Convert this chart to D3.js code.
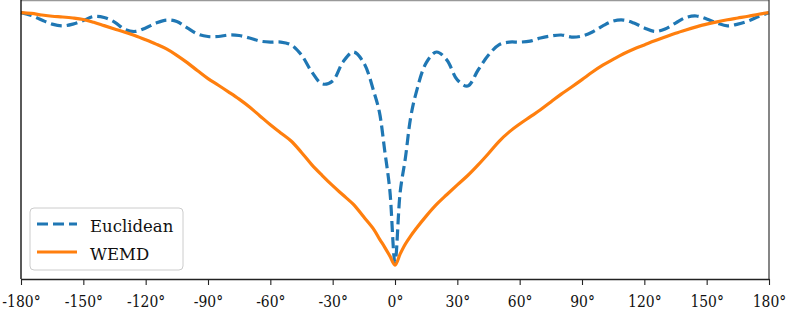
<!DOCTYPE html>
<html>
<head>
<meta charset="utf-8">
<script src="https://cdn.jsdelivr.net/npm/d3@7"></script>
<style>
  body { margin: 0; background: #fff; }
  svg { display: block; }
  text { font-family: "DejaVu Serif", "Liberation Serif", serif; }
</style>
</head>
<body>
<div id="chart"></div>
<script>
// angle samples (degrees)
const angles = [-180,-175,-170,-165,-160,-155,-150,-145,-140,-135,-130,-125,-120,-115,-110,-105,-100,-95,-90,-85,-80,-75,-70,-65,-60,-55,-50,-45,-40,-35,-30,-25,-20,-15,-10,-7.5,-5,-2.5,0,2.5,5,7.5,10,15,20,25,30,35,40,45,50,55,60,65,70,75,80,85,90,95,100,105,110,115,120,125,130,135,140,145,150,155,160,165,170,175,180];

// normalised similarity
const euclidean = [1.000,0.989,0.971,0.955,0.948,0.955,0.969,0.985,0.981,0.963,0.934,0.926,0.940,0.959,0.971,0.965,0.940,0.916,0.906,0.906,0.912,0.910,0.900,0.888,0.884,0.884,0.873,0.833,0.766,0.719,0.731,0.806,0.845,0.802,0.683,0.608,0.459,0.301,0.015,0.293,0.427,0.585,0.679,0.802,0.845,0.813,0.735,0.711,0.774,0.833,0.873,0.884,0.884,0.888,0.900,0.908,0.912,0.904,0.908,0.924,0.948,0.967,0.971,0.959,0.940,0.926,0.936,0.959,0.981,0.987,0.975,0.959,0.948,0.955,0.967,0.985,1.000];

const wemd = [1.000,0.997,0.991,0.986,0.983,0.979,0.973,0.962,0.949,0.936,0.923,0.909,0.893,0.876,0.857,0.832,0.803,0.771,0.740,0.714,0.687,0.659,0.628,0.593,0.558,0.526,0.494,0.449,0.400,0.358,0.318,0.281,0.244,0.194,0.143,0.108,0.076,0.041,0.005,0.049,0.088,0.119,0.147,0.198,0.244,0.283,0.321,0.358,0.400,0.445,0.492,0.530,0.561,0.589,0.617,0.648,0.679,0.707,0.736,0.766,0.793,0.816,0.838,0.857,0.873,0.889,0.904,0.919,0.932,0.944,0.955,0.964,0.972,0.979,0.986,0.994,1.000];

const tickValues = [-180,-150,-120,-90,-60,-30,0,30,60,90,120,150,180];
const seriesNames = ["Euclidean", "WEMD"];

function makeChart() {
    let svgWidth = 788;
    let svgHeight = 310;
    let margin = {top: 0, right: 19, bottom: 31, left: 21};
    let w = svgWidth - margin.left - margin.right;
    let h = svgHeight - margin.top - margin.bottom;

    let svg = d3.select("#chart")
        .append("svg")
        .attr("width", svgWidth)
        .attr("height", svgHeight);
    let chartGroup = svg.append("g")
        .attr("transform", `translate(${margin.left}, ${margin.top})`);

    let x = d3.scaleLinear().domain([-180, 180]).range([0, w]);
    let y = d3.scaleLinear().domain([-0.05, 1.05]).range([h, 0]);

    let line = d3.line()
        .x(d => x(d[0]))
        .y(d => y(d[1]))
        .curve(d3.curveCatmullRom.alpha(0.5));

    chartGroup.append("path")
        .datum(d3.zip(angles, euclidean))
        .attr("d", line)
        .attr("fill", "none")
        .attr("stroke", "#1f77b4")
        .attr("stroke-width", 3.2)
        .attr("stroke-dasharray", "11,5");

    chartGroup.append("path")
        .datum(d3.zip(angles, wemd))
        .attr("d", line)
        .attr("fill", "none")
        .attr("stroke", "#ff7f0e")
        .attr("stroke-width", 3.2)
        .attr("stroke-linejoin", "round");

    // frame
    chartGroup.append("line").attr("x1", 0).attr("x2", w).attr("y1", 0.5).attr("y2", 0.5)
        .attr("stroke", "#999").attr("stroke-width", 1.3);
    chartGroup.append("line").attr("x1", w).attr("x2", w).attr("y1", 0).attr("y2", h)
        .attr("stroke", "#444").attr("stroke-width", 1.3);
    chartGroup.append("line").attr("x1", 0).attr("x2", 0).attr("y1", 0).attr("y2", h)
        .attr("stroke", "#000").attr("stroke-width", 1.3);

    let xAxis = d3.axisBottom(x)
        .tickValues(tickValues)
        .tickSize(6)
        .tickSizeOuter(0)
        .tickFormat(d => d + "\u00b0");

    let ax = chartGroup.append("g")
        .attr("transform", `translate(0, ${h})`)
        .call(xAxis);
    ax.attr("font-family", null);
    ax.select(".domain").attr("stroke", "#222").attr("stroke-width", 1.3);
    ax.selectAll(".tick line").attr("stroke", "#222").attr("stroke-width", 1.1);
    ax.selectAll(".tick text")
        .attr("font-size", 17)
        .attr("fill", "#111")
        .attr("y", 0)
        .attr("dy", 0)
        .attr("transform", "translate(0, 28) scale(0.82, 1)");

    // legend
    let legend = chartGroup.append("g").attr("transform", "translate(9, 208)");
    legend.append("rect")
        .attr("width", 153).attr("height", 62)
        .attr("rx", 4)
        .attr("fill", "#fff").attr("fill-opacity", 0.8)
        .attr("stroke", "#ccc").attr("stroke-width", 1);
    let styles = [
        {color: "#1f77b4", dash: "11,5"},
        {color: "#ff7f0e", dash: null}
    ];
    seriesNames.forEach(function(name, i) {
        legend.append("line")
            .attr("x1", 7).attr("x2", 47)
            .attr("y1", 16 + i * 28).attr("y2", 16 + i * 28)
            .attr("stroke", styles[i].color)
            .attr("stroke-width", 3.2)
            .attr("stroke-dasharray", styles[i].dash);
        legend.append("text")
            .attr("x", 60).attr("y", 24 + i * 28)
            .attr("font-size", 16.5)
            .attr("fill", "#111")
            .text(name);
    });
}

makeChart();
</script>
</body>
</html>
